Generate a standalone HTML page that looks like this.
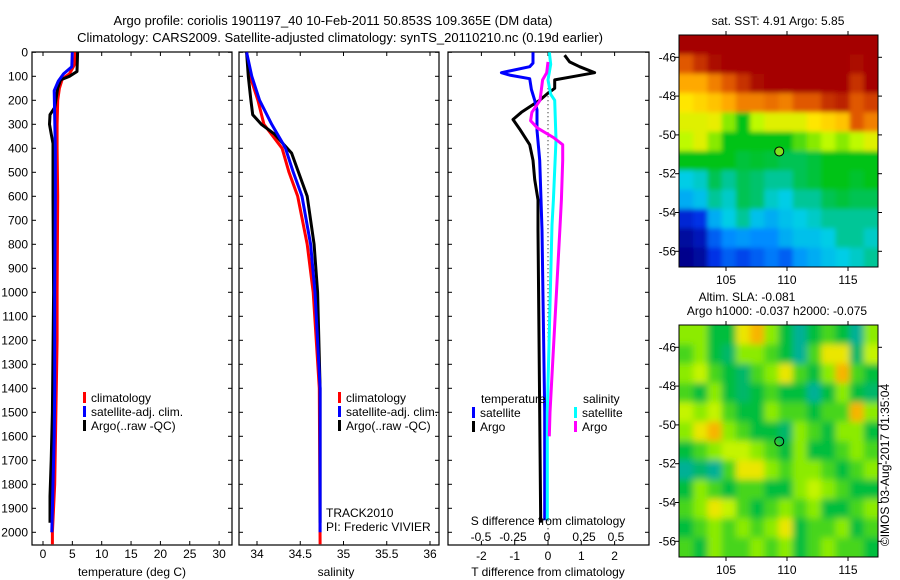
<!DOCTYPE html>
<html><head><meta charset="utf-8">
<style>
body{margin:0;background:#fff;}
svg{display:block;font-family:"Liberation Sans",sans-serif;}
</style></head>
<body>
<svg id="fig" width="900" height="580" viewBox="0 0 900 580" xmlns="http://www.w3.org/2000/svg">
<defs>
<filter id="blurS" x="-5%" y="-5%" width="110%" height="110%"><feGaussianBlur stdDeviation="2.5"/></filter>
<filter id="blurL" x="-5%" y="-5%" width="110%" height="110%"><feGaussianBlur stdDeviation="3.5"/></filter>
<clipPath id="clipTop"><rect x="679" y="35" width="199" height="232"/></clipPath>
<clipPath id="clipBot"><rect x="679" y="325" width="199" height="232"/></clipPath>
</defs>
<text x="333" y="25" font-size="13" text-anchor="middle">Argo profile: coriolis 1901197_40 10-Feb-2011 50.853S 109.365E (DM data)</text>
<text x="340" y="42" font-size="13" text-anchor="middle">Climatology: CARS2009. Satellite-adjusted climatology: synTS_20110210.nc (0.19d earlier)</text>
<g id="maps"></g>
<g id="panels"></g>
</svg>
<script>
// ---- profile data ----
const tClimDepth=[0,50,90,110,150,200,300,400,600,1000,1200,1500,1800,2000,2050];
const tClimVal=[5.5,5.4,4.5,3.3,2.8,2.5,2.4,2.4,2.5,2.4,2.4,2.2,2.0,1.6,1.6];
const tSatDepth=[0,60,90,120,160,400,600,1000,1400,1600,1800,2000];
const tSatVal=[5.0,4.9,3.5,2.6,1.9,2.1,2.1,2.0,2.0,1.9,1.7,1.5];
const tArgoDepth=[0,80,100,115,150,230,260,300,340,380,460,600,1000,1500,1700,1850,1960];
const tArgoVal=[5.9,5.8,4.5,3.0,2.5,2.0,1.2,1.1,1.4,1.7,1.7,1.7,1.8,1.6,1.4,1.2,1.2];
const sClimDepth=[0,100,200,300,400,500,600,800,1000,1400,2050];
const sClimVal=[33.88,33.92,34.01,34.08,34.29,34.37,34.47,34.58,34.65,34.72,34.73];
const sSatDepth=[0,100,200,300,380,400,500,600,800,1000,1400,2000];
const sSatVal=[33.88,33.94,34.03,34.17,34.30,34.33,34.42,34.52,34.62,34.67,34.73,34.73];
const sArgoDepth=[0,100,200,260,300,340,380,420,500,600,800,1000,1400,1960];
const sArgoVal=[33.88,33.9,33.93,33.95,34.05,34.2,34.3,34.4,34.48,34.58,34.66,34.70,34.73,34.73];
const dTSatDepth=[0,45,60,85,95,110,155,200,240,325,450,740,1500,1950];
const dTSatVal=[-0.45,-0.45,-0.55,-1.4,-1.15,-0.55,-0.5,-0.4,-0.33,-0.33,-0.25,-0.18,-0.1,-0.1];
const dTArgoDepth=[12,40,60,85,100,115,150,170,200,250,280,320,385,450,530,615,740,1500,1960];
const dTArgoVal=[0.5,0.65,0.95,1.4,0.8,0.2,0.2,0,-0.25,-0.8,-1.05,-0.85,-0.55,-0.45,-0.4,-0.3,-0.3,-0.25,-0.22];
const dSSatDepth=[0,50,115,175,200,365,490,615,720,1500,1950];
const dSSatVal=[0.01,0.02,0.0,0.02,0.05,0.06,0.05,0.04,0.03,-0.005,-0.005];
const dSArgoDepth=[40,85,115,200,250,285,315,355,385,450,615,720,1500,1600];
const dSArgoVal=[0.0,-0.01,-0.04,-0.06,-0.12,-0.13,-0.08,0.04,0.11,0.11,0.10,0.09,0.015,0.01];
// ---- map data (colour index 0..1) ----
const sstGrid=[
[1,1,1,1,1,1,1,1,1,1,1,1,1,1],
[0.85,0.9,0.95,1,1,1,1,1,1,1,1,1,0.95,1],
[0.75,0.75,0.8,0.85,0.9,0.95,1,1,1,1,1,1,0.9,1],
[0.68,0.7,0.72,0.75,0.8,0.8,0.82,0.8,0.85,0.85,0.9,0.92,0.85,0.88],
[0.65,0.65,0.66,0.6,0.55,0.62,0.65,0.65,0.65,0.68,0.7,0.72,0.85,0.8],
[0.62,0.65,0.6,0.55,0.55,0.55,0.55,0.55,0.58,0.6,0.62,0.6,0.62,0.65],
[0.55,0.55,0.55,0.55,0.52,0.53,0.52,0.5,0.5,0.52,0.55,0.55,0.55,0.55],
[0.4,0.42,0.5,0.45,0.5,0.48,0.45,0.45,0.5,0.52,0.55,0.55,0.53,0.55],
[0.35,0.38,0.45,0.42,0.5,0.48,0.42,0.4,0.45,0.45,0.5,0.52,0.5,0.5],
[0.18,0.2,0.35,0.4,0.45,0.38,0.35,0.38,0.4,0.42,0.45,0.45,0.45,0.45],
[0.12,0.15,0.25,0.3,0.32,0.3,0.3,0.35,0.38,0.38,0.4,0.45,0.45,0.42],
[0.1,0.12,0.2,0.25,0.22,0.25,0.28,0.25,0.32,0.35,0.38,0.4,0.42,0.45]];
const slaGrid=[
[0.6,0.6,0.5,0.5,0.7,0.75,0.6,0.5,0.4,0.5,0.55,0.5,0.4,0.6],
[0.55,0.6,0.5,0.45,0.6,0.6,0.55,0.5,0.4,0.55,0.7,0.7,0.45,0.65],
[0.6,0.65,0.55,0.5,0.45,0.55,0.6,0.7,0.55,0.5,0.6,0.75,0.55,0.5],
[0.55,0.5,0.6,0.5,0.45,0.5,0.55,0.5,0.5,0.4,0.5,0.6,0.5,0.45],
[0.65,0.6,0.65,0.55,0.5,0.5,0.6,0.55,0.55,0.5,0.55,0.55,0.75,0.6],
[0.6,0.7,0.75,0.6,0.55,0.5,0.5,0.45,0.6,0.55,0.5,0.6,0.6,0.5],
[0.5,0.55,0.6,0.65,0.65,0.6,0.55,0.5,0.6,0.5,0.5,0.55,0.6,0.55],
[0.4,0.45,0.4,0.55,0.7,0.7,0.6,0.55,0.6,0.6,0.55,0.5,0.55,0.6],
[0.5,0.6,0.55,0.5,0.55,0.55,0.5,0.5,0.6,0.65,0.6,0.55,0.5,0.5],
[0.55,0.6,0.7,0.65,0.55,0.5,0.55,0.6,0.55,0.6,0.5,0.5,0.55,0.6],
[0.5,0.55,0.6,0.55,0.6,0.55,0.6,0.7,0.5,0.55,0.55,0.6,0.5,0.55],
[0.55,0.5,0.6,0.55,0.55,0.6,0.55,0.6,0.5,0.55,0.6,0.55,0.55,0.5]];
const depthTicks=[0,100,200,300,400,500,600,700,800,900,1000,1100,1200,1300,1400,1500,1600,1700,1800,1900,2000];
const tempTicks=[0,5,10,15,20,25,30];
const salTicks=[34,34.5,35,35.5,36];
const dTTicks=[-2,-1,0,1,2];
const dSTicks=[-0.5,-0.25,0,0.25,0.5];
const latTicks=[-46,-48,-50,-52,-54,-56];
const lonTicks=[105,110,115];
const argoLon=109.365, argoLat=-50.853;

const NS="http://www.w3.org/2000/svg";
function mk(tag,attrs,parent,txt){const e=document.createElementNS(NS,tag);for(const k in attrs)e.setAttribute(k,attrs[k]);if(txt!==undefined)e.textContent=txt;parent.appendChild(e);return e;}
const P=document.getElementById('panels');
const M=document.getElementById('maps');
const yD=d=>52.3+d*0.24;
const TOP=52,BOT=545;
function axBox(x0,x1,name){
  const r=mk('rect',{x:x0,y:TOP,width:x1-x0,height:BOT-TOP,fill:'none',stroke:'#000','stroke-width':1.2},P);
  
  
}
function yTicks(x0,x1,labels){
  depthTicks.forEach(d=>{
    const y=yD(d);
    mk('line',{x1:x0,y1:y,x2:x0+4,y2:y,stroke:'#000'},P);
    mk('line',{x1:x1,y1:y,x2:x1-4,y2:y,stroke:'#000'},P);
    if(labels){const t=mk('text',{x:x0-4,y:y+4,'font-size':12,'text-anchor':'end'},P,String(d));
      
      }
  });
}
function xTicks(vals,fx,labY,fmt,top,bottom){
  vals.forEach(v=>{const x=fx(v);
    if(top)mk('line',{x1:x,y1:TOP,x2:x,y2:TOP+4,stroke:'#000'},P);
    if(bottom)mk('line',{x1:x,y1:BOT,x2:x,y2:BOT-4,stroke:'#000'},P);
    if(labY){const t=mk('text',{x:x,y:labY,'font-size':12,'text-anchor':'middle'},P,fmt(v));
      
      }
  });
}
function line(depths,vals,fx,color,name){
  const pts=depths.map((d,i)=>fx(vals[i]).toFixed(1)+','+yD(d).toFixed(1)).join(' ');
  const p=mk('polyline',{points:pts,fill:'none',stroke:color,'stroke-width':3,'stroke-linejoin':'round'},P);
  
  
}
function legend(x,y,items){
  items.forEach((it,i)=>{
    if(it[1]) mk('rect',{x:x,y:y+i*14-6,width:3,height:11,fill:it[1]},P);
    const t=mk('text',{x:x+(it[1]?8:0),y:y+i*14+4,'font-size':12},P,it[0]);
    
    
  });
}
// Panel 1 temperature
const fT=v=>43+v*5.87;
axBox(32,232,'temperature-axes');
yTicks(32,232,true);
xTicks(tempTicks,fT,558,v=>String(v),true,true);
line(tClimDepth,tClimVal,fT,'#ff0000','temp-climatology-line');
line(tArgoDepth,tArgoVal,fT,'#000000','temp-argo-line');
line(tSatDepth,tSatVal,fT,'#0000ff','temp-satellite-line');
legend(83,398,[['climatology','#ff0000'],['satellite-adj. clim.','#0000ff'],['Argo(..raw -QC)','#000000']]);
mk('text',{x:132,y:576,'font-size':12,'text-anchor':'middle'},P,'temperature (deg C)');
// Panel 2 salinity
const fS=v=>257+(v-34)*86.5;
axBox(239,439,'salinity-axes');
yTicks(239,439,false);
xTicks(salTicks,fS,558,v=>String(v),true,true);
line(sClimDepth,sClimVal,fS,'#ff0000','sal-climatology-line');
line(sArgoDepth,sArgoVal,fS,'#000000','sal-argo-line');
line(sSatDepth,sSatVal,fS,'#0000ff','sal-satellite-line');
legend(338,398,[['climatology','#ff0000'],['satellite-adj. clim.','#0000ff'],['Argo(..raw -QC)','#000000']]);
mk('text',{x:326,y:517,'font-size':12},P,'TRACK2010');
mk('text',{x:326,y:531,'font-size':12},P,'PI: Frederic VIVIER');
mk('text',{x:336,y:576,'font-size':12,'text-anchor':'middle'},P,'salinity');
// Panel 3 differences
const fdT=v=>548+v*33.3;
const fdS=v=>548+v*134;
axBox(448,649,'difference-axes');
yTicks(448,649,false);
xTicks(dTTicks,fdT,560,v=>String(v),true,true);
mk('line',{x1:548,y1:yD(100),x2:548,y2:BOT,stroke:'#000','stroke-dasharray':'1,3'},P);
line(dTArgoDepth,dTArgoVal,fdT,'#000000','tdiff-argo-line');
line(dTSatDepth,dTSatVal,fdT,'#0000ff','tdiff-satellite-line');
line(dSSatDepth,dSSatVal,fdS,'#00ffff','sdiff-satellite-line');
line(dSArgoDepth,dSArgoVal,fdS,'#ff00ff','sdiff-argo-line');
legend(481,399,[['temperature',null]]);
legend(472,413,[['satellite','#0000ff'],['Argo','#000000']]);
legend(583,399,[['salinity',null]]);
legend(574,413,[['satellite','#00ffff'],['Argo','#ff00ff']]);
mk('text',{x:548,y:525,'font-size':12,'text-anchor':'middle'},P,'S difference from climatology');
const sLabX=[481,513,547,584,616];
dSTicks.forEach((v,i)=>{const t=mk('text',{x:sLabX[i],y:541,'font-size':12,'text-anchor':'middle'},P,String(v));
  
  });
mk('text',{x:548,y:576,'font-size':12,'text-anchor':'middle'},P,'T difference from climatology');

// ---- maps ----
function ramp(stops,v){
  if(v<=stops[0][0])return 'rgb('+stops[0][1]+')';
  for(let i=1;i<stops.length;i++){if(v<=stops[i][0]){const a=stops[i-1],b=stops[i],t=(v-a[0])/(b[0]-a[0]);
    return 'rgb('+a[1].map((c,k)=>Math.round(c+(b[1][k]-c)*t)).join(',')+')';}}
  return 'rgb('+stops[stops.length-1][1]+')';
}
const sstStops=[[0.1,[0,0,140]],[0.2,[0,50,230]],[0.3,[0,140,255]],[0.4,[0,205,230]],[0.47,[0,195,120]],[0.55,[0,195,20]],[0.62,[190,250,0]],[0.68,[255,230,0]],[0.76,[255,160,0]],[0.86,[220,80,0]],[0.96,[165,0,0]]];
const slaStops=[[0.4,[0,176,150]],[0.5,[0,190,60]],[0.6,[140,235,0]],[0.68,[230,250,0]],[0.76,[250,170,0]]];
function drawMap(y0,grid,stops,name,dotFill,filt,clip){
  const x0=679,x1=878,y1=y0+232;
  const fx=lon=>726+(lon-105)*12.2;
  const fy=lat=>y0+22.3+(-46-lat)*19.4;
  const cg=mk('g',{'clip-path':'url(#'+clip+')'},M);
  const g=mk('g',{filter:'url(#'+filt+')'},cg);
  
  
  const nr=grid.length,nc=grid[0].length,cw=(x1-x0)/nc,ch=(y1-y0)/nr;
  grid.forEach((row,i)=>row.forEach((v,j)=>{
    const ex=j===0?-8:0, ey=i===0?-8:0, ew=(j===nc-1?8:0)-ex, eh=(i===nr-1?8:0)-ey;
    const c=mk('rect',{x:(x0+j*cw+ex).toFixed(2),y:(y0+i*ch+ey).toFixed(2),width:(cw+0.6+ew).toFixed(2),height:(ch+0.6+eh).toFixed(2),fill:ramp(stops,v)},g);
    
    
  }));
  mk('rect',{x:x0,y:y0,width:x1-x0,height:y1-y0,fill:'none',stroke:'#000'},M);
  latTicks.forEach(l=>{const y=fy(l);
    mk('line',{x1:x0,y1:y,x2:x0-4,y2:y,stroke:'#000'},M);
    mk('line',{x1:x1,y1:y,x2:x1+4,y2:y,stroke:'#000'},M);
    const t=mk('text',{x:676,y:y+4,'font-size':12,'text-anchor':'end'},M,String(l));
    
    });
  lonTicks.forEach(l=>{const x=fx(l);
    mk('line',{x1:x,y1:y0,x2:x,y2:y0-4,stroke:'#000'},M);
    mk('line',{x1:x,y1:y1,x2:x,y2:y1+4,stroke:'#000'},M);
    const t=mk('text',{x:x,y:y1+17,'font-size':12,'text-anchor':'middle'},M,String(l));
    
    });
  const d=mk('circle',{cx:fx(argoLon),cy:fy(argoLat),r:4.5,fill:dotFill,stroke:'#000'},M);
  
  
}
drawMap(35,sstGrid,sstStops,'sst-map','#80e020','blurS','clipTop');
drawMap(325,slaGrid,slaStops,'sla-map','none','blurL','clipBot');
mk('text',{x:778,y:25,'font-size':12,'text-anchor':'middle'},M,'sat. SST: 4.91  Argo: 5.85');
mk('text',{x:747,y:301,'font-size':12,'text-anchor':'middle'},M,'Altim. SLA: -0.081');
mk('text',{x:777,y:315,'font-size':12,'text-anchor':'middle'},M,'Argo h1000: -0.037 h2000: -0.075');
mk('text',{x:0,y:0,'font-size':12,'text-anchor':'middle',transform:'translate(889,465) rotate(-90)'},M,'©IMOS 03-Aug-2017 01:35:04');
</script>
</body></html>
